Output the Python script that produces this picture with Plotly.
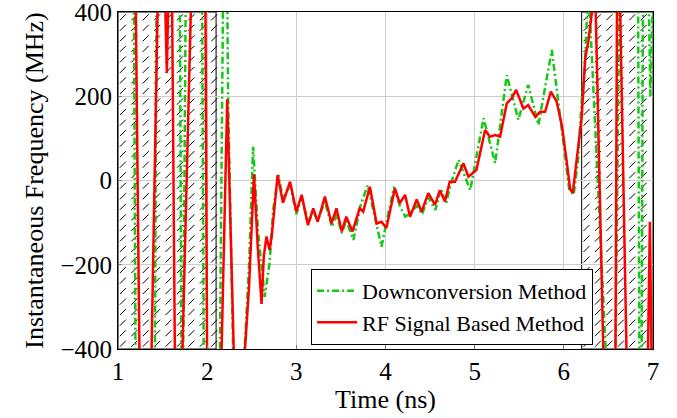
import numpy as np
import plotly.graph_objects as go

# ---------------- data ----------------
t_red = [1.00, 1.19, 1.25, 1.36, 1.46, 1.52, 1.548, 1.575, 1.60, 1.645, 1.70, 1.84,
         1.975, 2.005, 2.13, 2.225, 2.31, 2.40, 2.47, 2.525, 2.565, 2.61, 2.635, 2.665,
         2.70, 2.725, 2.79, 2.85, 2.93, 3.00, 3.06, 3.13, 3.19, 3.24, 3.32, 3.395, 3.45,
         3.51, 3.56, 3.63, 3.71, 3.75, 3.825, 3.90, 3.955, 4.01, 4.105, 4.16, 4.22, 4.275,
         4.35, 4.405, 4.48, 4.555, 4.61, 4.667, 4.72, 4.78, 4.873, 4.93, 5.02, 5.117, 5.17,
         5.23, 5.285, 5.36, 5.415, 5.465, 5.547, 5.60, 5.68, 5.734, 5.79, 5.855, 5.92,
         5.98, 6.03, 6.07, 6.10, 6.15, 6.20, 6.24, 6.275, 6.315, 6.345, 6.455, 6.575,
         6.60, 6.615, 6.72, 6.93, 6.965, 6.975, 7.00]
f_red = [700, 600, -600, -600, 600, 500, 255, 550, 600, -600, -600, 600,
         700, -700, -700, 193, -500, -480, -250, 15, -150, -293, -180, -133,
         -165, -130, 13, -53, -3, -74, -34, -106, -66, -98, -38, -102, -66,
         -121, -86, -121, -66, -74, -15, -102, -98, -113, -19, -54, -34, -86,
         -45, -74, -30, -58, -23, -50, -3, -3, 41, 9, 25, 120, 104,
         108, 104, 183, 195, 215, 171, 179, 151, 163, 163, 211, 187,
         128, 49, -20, -30, 60, 150, 290, 330, 400, 520, -520, -600,
         600, 600, -600, -600, -98, -700, -700]

t_green = [1.00, 1.175, 1.20, 1.41, 1.435, 1.69, 1.715, 1.725, 1.765, 1.94, 1.965,
           2.135, 2.185, 2.215, 2.235, 2.30, 2.40, 2.47, 2.515, 2.57, 2.645, 2.70,
           2.74, 2.80, 2.85, 2.93, 3.00, 3.06, 3.13, 3.19, 3.24, 3.32, 3.40, 3.45,
           3.51, 3.56, 3.64, 3.72, 3.80, 3.87, 3.955, 4.02, 4.095, 4.16, 4.22, 4.28,
           4.35, 4.41, 4.48, 4.56, 4.62, 4.68, 4.73, 4.82, 4.95, 5.10, 5.23, 5.36,
           5.49, 5.60, 5.715, 5.865, 5.93, 6.00, 6.06, 6.11, 6.16, 6.20, 6.235,
           6.275, 6.485, 6.57, 6.63, 6.83, 6.85, 6.87, 6.89, 6.94, 6.97, 7.00]
f_green = [700, 600, -600, -600, 600, 600, -600, -600, 600, 600, -600,
           -600, 600, 700, 193, -500, -480, -200, 80, -120, -276, -196,
           -70, 13, -45, -10, -80, -40, -100, -75, -95, -50, -110, -80,
           -125, -95, -141, -60, -11, -80, -157, -90, -15, -60, -86, -77,
           -60, -80, -40, -70, -20, -55, -10, 49, -23, 148, 41, 250,
           144, 227, 132, 310, 200, 70, -20, -34, 50, 190, 270,
           470, -470, -600, 600, 600, -600, -600, 600, 600, 200, 450]

hatch_x0 = [1.0, 6.2]
hatch_x1 = [2.1, 7.0]

x_ticks = [1, 2, 3, 4, 5, 6, 7]
y_ticks = [-400, -200, 0, 200, 400]

FONT = "Liberation Serif"

fig = go.Figure()

# hatch: short north-east strokes on a grid inside each shaded window
hx, hy = [], []
dx, dy = 0.128, 25.0
for a, b in zip(hatch_x0, hatch_x1):
    xs = np.arange(a + 0.055, b - 0.02, dx)
    ys = np.arange(-400 + 12.5, 400, dy)
    for xv in xs:
        for yv in ys:
            hx.append(xv)
            hy.append(yv)
fig.add_trace(go.Scatter(
    x=hx, y=hy, mode="markers", showlegend=False, hoverinfo="skip",
    marker=dict(symbol="line-ne", size=6, line=dict(color="black", width=1)),
    cliponaxis=True))

for a, b in zip(hatch_x0, hatch_x1):
    fig.add_shape(type="rect", x0=a, x1=b, y0=-400, y1=400, xref="x", yref="y",
                  line=dict(color="black", width=1), layer="below")

fig.add_trace(go.Scatter(
    x=t_green, y=f_green, mode="lines", name="Downconversion Method",
    line=dict(color="rgb(20,200,20)", width=2.5, dash="7px,3px,2px,3px")))
fig.add_trace(go.Scatter(
    x=t_red, y=f_red, mode="lines", name="RF Signal Based Method",
    line=dict(color="rgb(255,0,0)", width=2.5)))

fig.update_layout(
    width=677, height=418,
    margin=dict(l=118, r=24, t=12, b=69, autoexpand=False),
    paper_bgcolor="white", plot_bgcolor="white",
    font=dict(family=FONT, size=25, color="black"),
    showlegend=True,
    legend=dict(x=0.888, y=0.012, xanchor="right", yanchor="bottom",
                bgcolor="white", bordercolor="black", borderwidth=1,
                font=dict(family=FONT, size=22, color="black"),
                tracegroupgap=0, itemwidth=40),
)
fig.update_xaxes(
    range=[1, 7], tickvals=x_ticks, ticktext=[str(v) for v in x_ticks],
    showgrid=True, gridcolor="rgb(205,205,205)", gridwidth=1,
    showline=True, linecolor="black", linewidth=1, mirror=True,
    ticks="inside", ticklen=4, tickcolor="rgb(120,120,120)",
    zeroline=False, automargin=False, ticklabeloverflow="allow",
    title=dict(text="Time (ns)", font=dict(family=FONT, size=26), standoff=2),
    tickfont=dict(family=FONT, size=25))
fig.update_yaxes(
    range=[-400, 400], tickvals=y_ticks,
    showgrid=True, gridcolor="rgb(205,205,205)", gridwidth=1,
    showline=True, linecolor="black", linewidth=1, mirror=True,
    ticks="inside", ticklen=4, tickcolor="rgb(120,120,120)",
    zeroline=False, automargin=False, ticklabeloverflow="allow",
    title=dict(text="Instantaneous Frequency (MHz)", font=dict(family=FONT, size=26), standoff=9),
    tickfont=dict(family=FONT, size=25))

fig.write_html("out.html", config={"displayModeBar": False},
               post_script="document.body.style.margin='0';document.body.style.padding='0';")
